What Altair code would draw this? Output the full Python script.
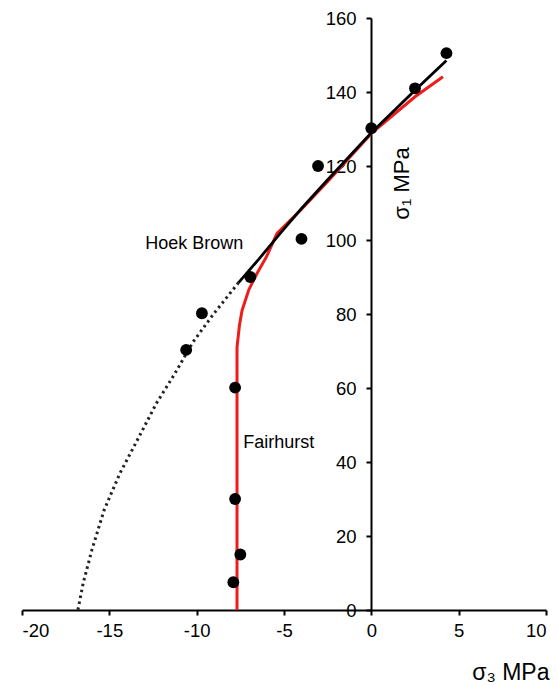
import altair as alt
import pandas as pd

# measured points (sigma3, sigma1) in MPa
pt_s3 = [4.3, 2.5, 0.0, -3.05, -4.0, -6.93, -9.7, -10.6, -7.8, -7.8, -7.5, -7.9]
pt_s1 = [150.5, 141.0, 130.2, 120.0, 100.3, 90.0, 80.2, 70.3, 60.1, 30.0, 15.0, 7.5]

# Hoek-Brown fit, solid part
hb_s3 = [-7.6, -6.5, -5.0, -4.0, -2.5, 0.0, 2.5, 4.3]
hb_s1 = [88.5, 94.5, 103.0, 108.5, 116.3, 129.0, 140.5, 148.5]

# Hoek-Brown extrapolation, dotted part
hbd_s3 = [-7.6, -9.0, -10.2, -11.3, -12.3, -13.3, -14.4, -15.3, -16.0, -16.5, -16.8]
hbd_s1 = [88.5, 80.2, 72.5, 63.5, 55.9, 46.8, 36.9, 27.0, 16.2, 7.2, 0.0]

# Fairhurst fit
fh_s3 = [-7.69, -7.69, -7.55, -7.4, -7.02, -6.54, -6.0, -5.4, -4.0, -2.5, 0.0, 2.5, 4.1]
fh_s1 = [0.0, 71.0, 77.0, 81.0, 86.5, 91.0, 95.5, 101.8, 108.3, 115.8, 128.8, 138.7, 144.1]

lab_text = ["Hoek Brown", "Fairhurst"]
lab_s3 = [-12.95, -7.33]
lab_s1 = [99.0, 45.1]

x_ticks = [-20, -15, -10, -5, 0, 5, 10]
y_ticks = [0, 20, 40, 60, 80, 100, 120, 140, 160]

FONT = "Liberation Sans"

xs = alt.Scale(domain=[-20, 10], nice=False, zero=False)
ys = alt.Scale(domain=[0, 160], nice=False, zero=False)

x_axis = alt.Axis(
    values=x_ticks, title="σ₃ MPa", grid=False, labelExpr="'' + datum.value",
    domainColor="black", domainWidth=2, tickColor="black", tickWidth=2, tickSize=5,
    labelFont=FONT, labelFontSize=18.5, labelColor="black", labelPadding=6,
    titleFont=FONT, titleFontSize=23, titleFontWeight="normal", titleColor="black",
    titleX=527, titleY=62, titleAlign="right", titleBaseline="middle", titleAnchor="end",
)
y_axis = alt.Axis(
    values=y_ticks, title="σ₁  MPa", grid=False, labelExpr="'' + datum.value",
    offset=-349,
    domainColor="black", domainWidth=2, tickColor="black", tickWidth=2, tickSize=5,
    labelFont=FONT, labelFontSize=18.5, labelColor="black", labelPadding=10,
    titleFont=FONT, titleFontSize=22, titleFontWeight="normal", titleColor="black",
    titleX=30, titleY=165, titleAngle=270, titleAlign="center", titleBaseline="middle",
)

pts = pd.DataFrame({"s3": pt_s3, "s1": pt_s1})
hb = pd.DataFrame({"s3": hb_s3, "s1": hb_s1, "o": list(range(len(hb_s3)))})
hbd = pd.DataFrame({"s3": hbd_s3, "s1": hbd_s1, "o": list(range(len(hbd_s3)))})
fh = pd.DataFrame({"s3": fh_s3, "s1": fh_s1, "o": list(range(len(fh_s3)))})
labs = pd.DataFrame({"t": lab_text, "s3": lab_s3, "s1": lab_s1})

X = alt.X("s3:Q", scale=xs, axis=x_axis)
Y = alt.Y("s1:Q", scale=ys, axis=y_axis)

dotted = alt.Chart(hbd).mark_line(color="#222222", strokeWidth=3, strokeDash=[2.5, 3.5]).encode(
    x=X, y=Y, order="o:Q")
red = alt.Chart(fh).mark_line(color="#ee1c1c", strokeWidth=3).encode(
    x=X, y=Y, order="o:Q")
black = alt.Chart(hb).mark_line(color="black", strokeWidth=2.8).encode(
    x=X, y=Y, order="o:Q")
points = alt.Chart(pts).mark_circle(color="black", opacity=1, size=140).encode(
    x=X, y=Y)
texts = alt.Chart(labs).mark_text(align="left", baseline="middle", font=FONT, fontSize=18,
                                  color="black").encode(
    x=X, y=Y, text="t:N")

chart = alt.layer(dotted, red, black, points, texts).properties(
    width=524, height=592,
    padding={"left": 22, "top": 18, "right": 13, "bottom": 76},
    autosize=alt.AutoSizeParams(type="none"),
    background="white",
).configure_view(stroke=None)

chart.save("out.html", embed_options={"renderer": "svg", "actions": False})
